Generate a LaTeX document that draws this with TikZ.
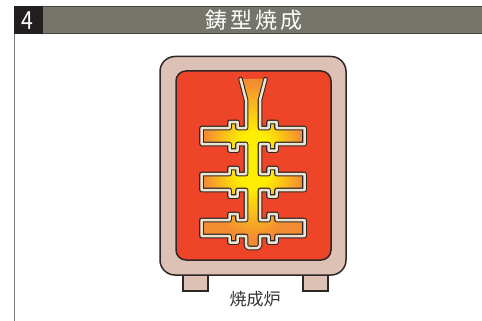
\documentclass[tikz,border=0pt]{standalone}
\usepackage{fontspec}
\newfontfamily\jpfont{Noto Sans CJK JP}
\definecolor{barbg}{RGB}{117,117,107}
\definecolor{barline}{RGB}{72,72,66}
\definecolor{numbg}{RGB}{35,31,32}
\definecolor{kilnshell}{RGB}{221,193,181}
\definecolor{kilnheat}{RGB}{238,69,41}
\definecolor{outline}{RGB}{45,40,40}
\definecolor{moldwall}{RGB}{238,228,205}
\definecolor{meltorange}{RGB}{244,140,50}
\definecolor{meltyellow}{RGB}{255,238,0}

% hot centre of the casting tree
\pgfdeclareradialshading{glow}{\pgfpoint{0bp}{0bp}}{color(0bp)=(meltyellow); color(9bp)=(meltyellow); color(25bp)=(meltorange); color(50bp)=(meltorange)}

% centre line of the mold wall: funnel, sprue and three cross pieces
\newcommand{\treepath}{(240.5,79) -- (246,100)
  \foreach \c in {136,182,228}{ -- (246,\c-8) -- (237.5,\c-8) -- (237.5,\c-14)
    -- (229.5,\c-14) -- (229.5,\c-8) -- (201.5,\c-8) -- (201.5,\c+8)
    -- (229.5,\c+8) -- (229.5,\c+14.5) -- (237.5,\c+14.5) -- (237.5,\c+8) -- (246,\c+8)}
  [rounded corners=3] -- (246,248) -- (260,248) [sharp corners]
  \foreach \c in {228,182,136}{ -- (260,\c+8) -- (268.5,\c+8) -- (268.5,\c+14.5)
    -- (276.5,\c+14.5) -- (276.5,\c+8) -- (304.5,\c+8) -- (304.5,\c-8)
    -- (276.5,\c-8) -- (276.5,\c-14) -- (268.5,\c-14) -- (268.5,\c-8) -- (260,\c-8)}
  -- (260,100) -- (265.5,79)}

\begin{document}
\begin{tikzpicture}[
  x=1pt, y=-1pt,
  shell/.style={draw=outline, line width=1.5pt, fill=kilnshell},
  wallout/.style={draw=outline, line width=4.6pt, line join=round, line cap=round},
  wallin/.style={draw=moldwall, line width=2.5pt, line join=round, line cap=round},
  jp/.style={font=\jpfont, inner sep=0pt}
]
\useasboundingbox (0,0) rectangle (482,321);
\fill[white] (0,0) rectangle (482,321);

% ---------- header bar ----------
\fill[barbg] (43,6) rectangle (482,33.5);
\draw[barline, line width=1pt] (43,6.2) -- (482,6.2);
\draw[barline, line width=1.4pt] (43,33.3) -- (482,33.3);
\fill[numbg] (14,5.7) rectangle (43,34);
\draw[black!50, line width=1.4pt] (14.7,34) -- (14.7,321);
\node[jp, text=white, font=\jpfont\fontsize{25}{25}\selectfont, xscale=0.85] (stepnum) at (27.5,20.5) {4};
\node[jp, text=white, font=\jpfont\fontsize{22}{22}\selectfont] (steptitle) at (254,20)
  {鋳\hspace{3pt}型\hspace{3pt}焼\hspace{3pt}成};

% ---------- kiln ----------
\draw[shell] (183,265) rectangle (208,291);
\draw[shell] (303,265) rectangle (328,291);
\draw[shell, rounded corners=15] (160,56.5) rectangle (346,275);
\draw[draw=outline, line width=1.5pt, fill=kilnheat, rounded corners=10] (176,71) rectangle (331,260);

% ---------- mold with molten metal ----------
\fill[meltorange] \treepath -- cycle;
\begin{scope}
  \clip \treepath -- cycle;
  \shade[shading=glow] (253,160) ellipse (50 and 78);
\end{scope}
\draw[wallout] \treepath;
\draw[wallin] \treepath;

\node[jp, text=black!80, font=\jpfont\fontsize{17}{17}\selectfont] (kilnlabel) at (255,299) {焼成炉};
\end{tikzpicture}
\end{document}
